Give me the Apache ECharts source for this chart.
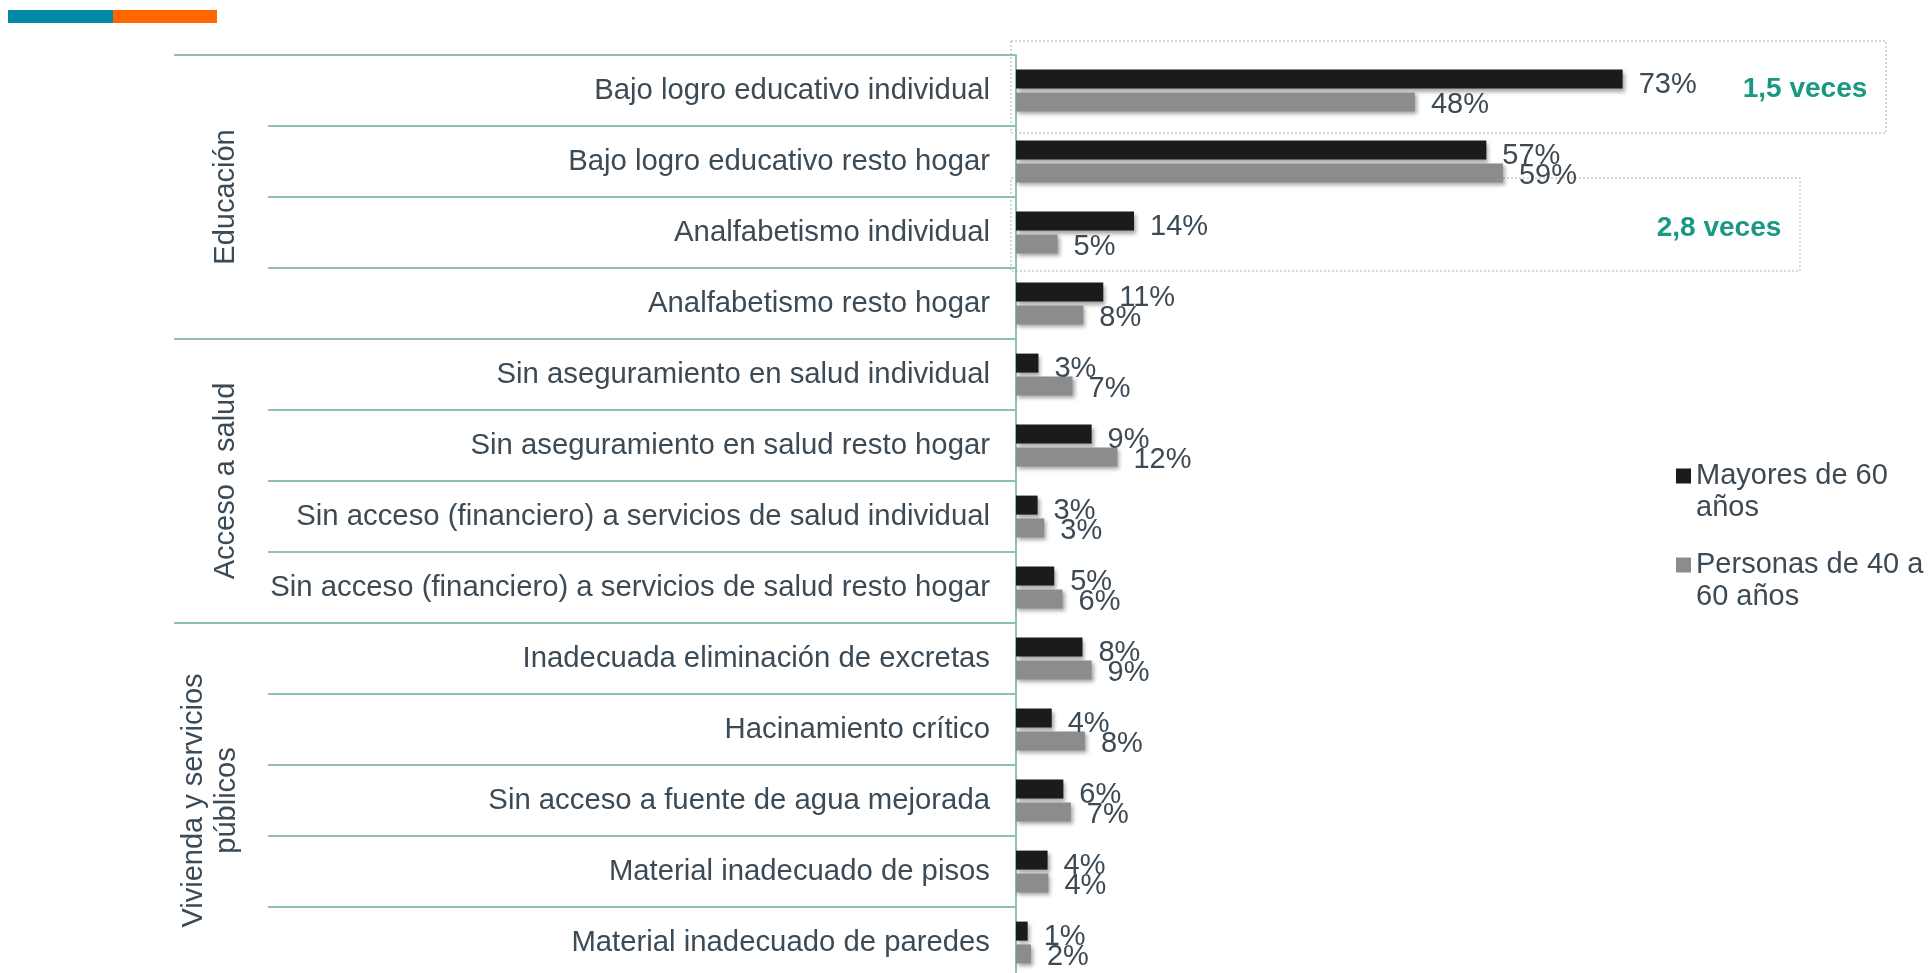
<!DOCTYPE html>
<html>
<head>
<meta charset="utf-8">
<script src="https://cdn.jsdelivr.net/npm/echarts@6/dist/echarts.min.js"></script>
<style>
  html, body { margin: 0; padding: 0; background: #fff; }
  #chart { width: 1928px; height: 973px; }
</style>
</head>
<body>
<div id="chart"></div>
<script>
// rows, top to bottom
const categories = [
  'Bajo logro educativo individual',
  'Bajo logro educativo resto hogar',
  'Analfabetismo individual',
  'Analfabetismo resto hogar',
  'Sin aseguramiento en salud individual',
  'Sin aseguramiento en salud resto hogar',
  'Sin acceso (financiero) a servicios de salud individual',
  'Sin acceso (financiero) a servicios de salud resto hogar',
  'Inadecuada eliminación de excretas',
  'Hacinamiento crítico',
  'Sin acceso a fuente de agua mejorada',
  'Material inadecuado de pisos',
  'Material inadecuado de paredes'
]
const mayores60 = [73, 56.6, 14.2, 10.5, 2.7, 9.1, 2.6, 4.6, 8.0, 4.3, 5.7, 3.8, 1.4]
const personas40a60 = [48, 58.6, 5.0, 8.1, 6.8, 12.2, 3.4, 5.6, 9.1, 8.3, 6.6, 3.9, 1.8]
const seriesNames = ['Mayores de 60 años', 'Personas de 40 a 60 años']

// dimension groups: label + first/last row
const groupNames = ['Educación', 'Acceso a salud', 'Vivienda y servicios\npúblicos']
const groupFrom = [0, 4, 8]
const groupTo = [3, 7, 12]

const ratioTexts = ['1,5 veces', '2,8 veces']

const FONT = '"Liberation Sans", Arial, sans-serif'
const TXT = '#3c4a55'
const LINE = '#8ec0b4'
const TEAL = '#1a9882'

const chart = echarts.init(document.getElementById('chart'))

function barSeries(name, data, color, dy) {
  return {
    name,
    type: 'bar',
    data,
    barWidth: 19,
    barGap: '20%',
    itemStyle: {
      color,
      shadowColor: 'rgba(0,0,0,0.35)',
      shadowBlur: 4,
      shadowOffsetX: 2,
      shadowOffsetY: 3
    },
    label: {
      show: true,
      position: 'right',
      distance: 16,
      fontFamily: FONT,
      fontSize: 29,
      color: TXT,
      offset: [0, dy],
      formatter: (p) => Math.round(p.value) + '%'
    }
  }
}

chart.setOption({
  backgroundColor: '#fff',
  animation: false,
  textStyle: { fontFamily: FONT },
  grid: { left: 1016, top: 55, width: 831, height: 923, containLabel: false, outerBoundsMode: 'none' },
  xAxis: { type: 'value', min: 0, max: 100, show: false },
  yAxis: [
    {
      type: 'category',
      inverse: true,
      data: categories,
      axisLine: { show: true, lineStyle: { color: LINE, width: 2 } },
      axisTick: { show: true, length: 748, lineStyle: { color: LINE, width: 2 } },
      axisLabel: { interval: 0, margin: 26, fontFamily: FONT, fontSize: 29.3, color: TXT, padding: [5, 0, 0, 0] },
      splitLine: { show: false }
    },
    {
      type: 'category',
      inverse: true,
      data: categories,
      position: 'left',
      axisLine: { show: false },
      axisLabel: { show: false },
      splitLine: { show: false },
      axisTick: {
        show: true,
        length: 842,
        interval: (i) => groupFrom.includes(i),
        lineStyle: { color: LINE, width: 2 }
      }
    }
  ],
  legend: {
    orient: 'vertical',
    left: 1676,
    top: 428,
    padding: 0,
    itemWidth: 15,
    itemHeight: 15,
    itemGap: -7,
    icon: 'rect',
    data: seriesNames,
    // blank first line so the marker sits beside the first text line
    formatter: (name) => '\n' + name,
    textStyle: {
      fontFamily: FONT,
      fontSize: 29,
      color: TXT,
      lineHeight: 32,
      width: 250,
      overflow: 'break'
    }
  },
  series: [
    barSeries(seriesNames[0], mayores60, '#1b1b1b', 6),
    barSeries(seriesNames[1], personas40a60, '#8c8c8c', 3)
  ]
})

// group labels and annotation boxes
const rowY = (i) => chart.convertToPixel({ yAxisIndex: 0 }, categories[i])
const graphics = [
  { type: 'rect', shape: { x: 8, y: 10, width: 105, height: 13 }, style: { fill: '#0088a6' } },
  { type: 'rect', shape: { x: 113, y: 10, width: 104, height: 13 }, style: { fill: '#ff6600' } },
  {
    type: 'rect', shape: { x: 1011, y: 41, width: 875, height: 92 },
    style: { fill: 'none', stroke: '#b0b0b0', lineWidth: 1, lineDash: [2, 2] }
  },
  {
    type: 'rect', shape: { x: 1011, y: 178, width: 789, height: 93 },
    style: { fill: 'none', stroke: '#b0b0b0', lineWidth: 1, lineDash: [2, 2] }
  },
  {
    type: 'text', x: 1805, y: 89,
    style: { text: ratioTexts[0], fill: TEAL, font: 'bold 28px ' + FONT, align: 'center', verticalAlign: 'middle' }
  },
  {
    type: 'text', x: 1719, y: 228,
    style: { text: ratioTexts[1], fill: TEAL, font: 'bold 28px ' + FONT, align: 'center', verticalAlign: 'middle' }
  }
]
groupNames.forEach((name, g) => {
  const multi = name.includes('\n')
  graphics.push({
    type: 'text',
    x: multi ? 210 : 226,
    y: (rowY(groupFrom[g]) + rowY(groupTo[g])) / 2,
    rotation: Math.PI / 2,
    style: {
      text: name,
      fill: TXT,
      font: '29px ' + FONT,
      lineHeight: 33,
      align: 'center',
      verticalAlign: 'middle'
    }
  })
})
chart.setOption({ graphic: graphics })
</script>
</body>
</html>
